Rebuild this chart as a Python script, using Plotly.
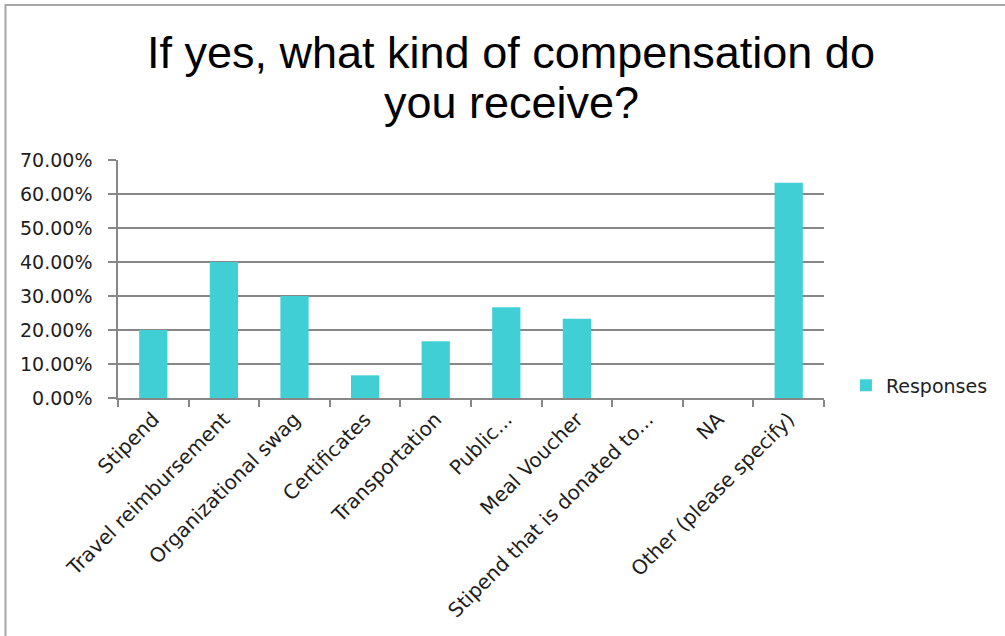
import plotly.graph_objects as go

categories = ["Stipend", "Travel reimbursement", "Organizational swag", "Certificates",
              "Transportation", "Public...", "Meal Voucher", "Stipend that is donated to...",
              "NA", "Other (please specify)"]
responses = [0.20, 0.40, 0.30, 0.0667, 0.1667, 0.2667, 0.2333, 0.0, 0.0, 0.6333]
y_ticks = [0, 0.1, 0.2, 0.3, 0.4, 0.5, 0.6, 0.7]
title_lines = ["If yes, what kind of compensation do", "you receive?"]

W, H = 1005, 636
L, R, T, B = 118, 827, 160, 398


def px_x(p):
    return (p - L) / (R - L)


def px_y(p):
    return (B - p) / (B - T)


FONT = "DejaVu Sans, Verdana, sans-serif"
TXT = "#1e1e1e"
gray = "#878787"

fig = go.Figure()
fig.add_trace(go.Bar(x=categories, y=responses, name="Responses",
                     marker=dict(color="#41CFD6", line=dict(width=0)), width=0.4,
                     showlegend=True))

fig.update_layout(
    width=W, height=H,
    margin=dict(l=L, r=W - R, t=T, b=H - B, pad=0),
    paper_bgcolor="white", plot_bgcolor="white",
    font=dict(family=FONT, color=TXT, size=19),
    showlegend=True,
    legend=dict(x=px_x(849), y=px_y(385.5), xanchor="left", yanchor="middle",
                font=dict(size=19, family=FONT, color=TXT),
                bgcolor="rgba(0,0,0,0)", itemwidth=30),
)
for i, line in enumerate(title_lines):
    fig.add_annotation(text=line, xref="paper", yref="paper",
                       x=px_x(513), y=px_y(52 + 50 * i), xanchor="center", yanchor="middle",
                       showarrow=False,
                       font=dict(family="Liberation Sans, Arial, sans-serif", size=45, color="#000000"))

fig.update_xaxes(
    type="category", tickangle=-45, showgrid=False,
    showline=True, linecolor=gray, linewidth=1.5,
    ticks="outside", ticklen=7, tickcolor=gray, tickwidth=1.5,
    tickson="boundaries",
    tickfont=dict(size=20, family=FONT, color=TXT),
    range=[-0.5, len(categories) - 0.5],
)
fig.update_yaxes(
    range=[0, 0.7], tickvals=y_ticks, tickformat=".2%",
    showgrid=True, gridcolor=gray, gridwidth=1.5,
    showline=True, linecolor=gray, linewidth=1.5,
    ticks="outside", ticklen=8, tickcolor=gray, tickwidth=1.5,
    ticklabelstandoff=12,
    tickfont=dict(size=19, family=FONT, color=TXT),
    zeroline=False,
)

# outer chart border (Excel chart area)
fig.add_shape(type="rect", xref="paper", yref="paper",
              x0=px_x(5), x1=px_x(1012), y0=px_y(645), y1=px_y(5),
              line=dict(color="#a6a6a6", width=2), fillcolor="rgba(0,0,0,0)", layer="below")

fig.write_html("out.html")
